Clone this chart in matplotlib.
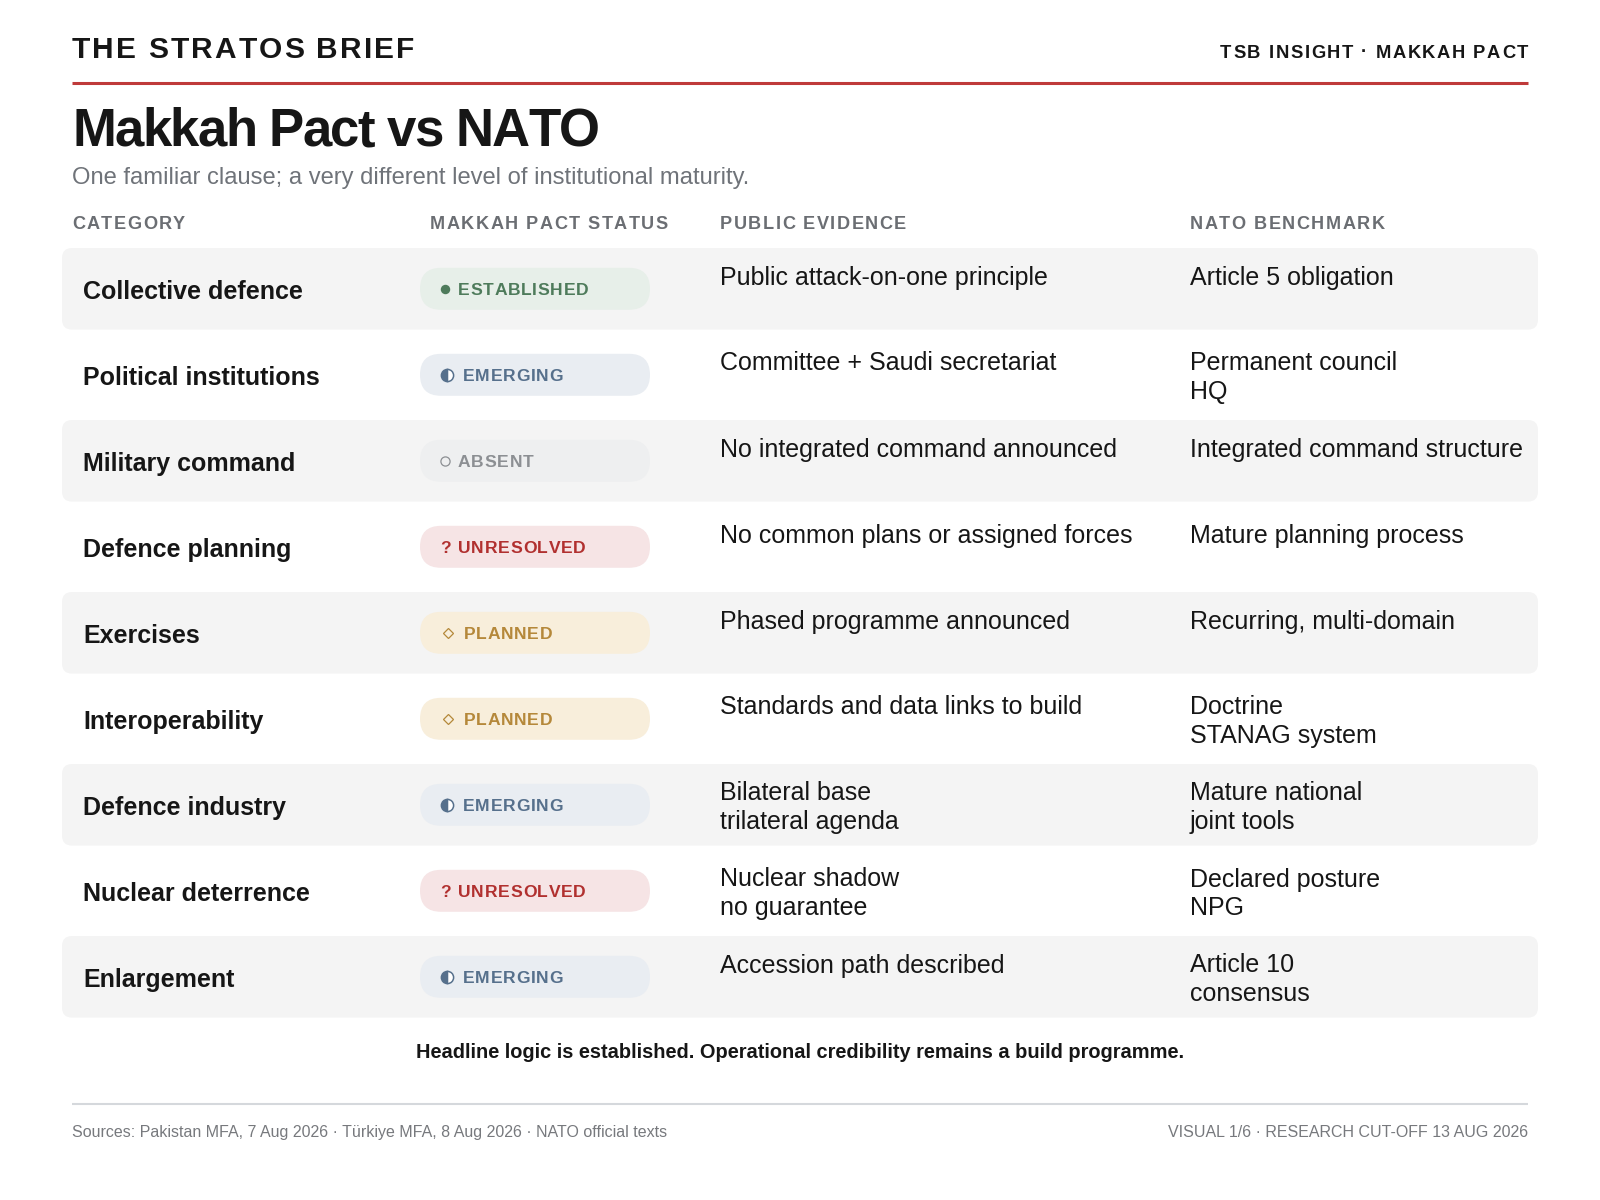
import matplotlib
matplotlib.use('Agg')
import matplotlib.pyplot as plt
from matplotlib.patches import FancyBboxPatch
from matplotlib.font_manager import FontProperties

plt.rcParams['font.family'] = ['Liberation Sans', 'DejaVu Sans']
FAMILY = ['Liberation Sans', 'DejaVu Sans']

W, H, DPI = 1600, 1200, 100

# table content
categories = ['Collective defence', 'Political institutions', 'Military command',
              'Defence planning', 'Exercises', 'Interoperability',
              'Defence industry', 'Nuclear deterrence', 'Enlargement']
statuses = ['ESTABLISHED', 'EMERGING', 'ABSENT', 'UNRESOLVED', 'PLANNED',
            'PLANNED', 'EMERGING', 'UNRESOLVED', 'EMERGING']
evidence = ['Public attack-on-one principle',
            'Committee + Saudi secretariat',
            'No integrated command announced',
            'No common plans or assigned forces',
            'Phased programme announced',
            'Standards and data links to build',
            'Bilateral base\ntrilateral agenda',
            'Nuclear shadow\nno guarantee',
            'Accession path described']
benchmark = ['Article 5 obligation',
             'Permanent council\nHQ',
             'Integrated command structure',
             'Mature planning process',
             'Recurring, multi-domain',
             'Doctrine\nSTANAG system',
             'Mature national\njoint tools',
             'Declared posture\nNPG',
             'Article 10\nconsensus']
columns = ['CATEGORY', 'MAKKAH PACT STATUS', 'PUBLIC EVIDENCE', 'NATO BENCHMARK']

# pill background, text colour, icon kind, label offset from pill left
status_style = {
    'ESTABLISHED': ('#e7efe9', '#4e7b5b', 'dot', 38),
    'EMERGING':    ('#e9edf2', '#56708c', 'half', 43),
    'ABSENT':      ('#eeeff0', '#8c8f93', 'ring', 38),
    'UNRESOLVED':  ('#f6e4e5', '#b1302f', 'query', 38),
    'PLANNED':     ('#f8eedb', '#b5883a', 'diamond', 44),
}

INK = '#161616'
GREY = '#6b6e73'

fig = plt.figure(figsize=(W / DPI, H / DPI), dpi=DPI)
ax = fig.add_axes([0, 0, 1, 1])
ax.set_xlim(0, W)
ax.set_ylim(H, 0)
ax.axis('off')
renderer = fig.canvas.get_renderer()


def px(size):
    return size * DPI / 72


def tracked(x, y, s, size, track, color, weight='bold', ha='left', va='center_baseline'):
    # text with letter spacing, drawn glyph by glyph
    prop = FontProperties(family=FAMILY, weight=weight, size=size)
    base = renderer.get_text_width_height_descent('HH', prop, ismath=False)[0]
    adv = [renderer.get_text_width_height_descent('H' + c + 'H', prop, ismath=False)[0] - base
           for c in s]
    gap = track * px(size)
    total = sum(adv) + gap * (len(s) - 1)
    if ha == 'right':
        x -= total
    elif ha == 'center':
        x -= total / 2
    for c, a in zip(s, adv):
        if c != ' ':
            ax.text(x, y, c, fontproperties=prop, color=color, va=va, ha='left')
        x += a + gap


def icon(kind, x, y, color):
    if kind == 'dot':
        ax.plot(x + 5, y, 'o', ms=6.8, mfc=color, mec=color, mew=0, zorder=3)
    elif kind == 'half':
        ax.plot(x + 7, y, 'o', ms=8.8, fillstyle='left', mfc=color, mfcalt='white',
                mec=color, mew=1.1, zorder=3)
    elif kind == 'ring':
        ax.plot(x + 5, y, 'o', ms=6.6, mfc='none', mec=color, mew=0.9, zorder=3)
    elif kind == 'diamond':
        ax.plot(x + 8, y, 'D', ms=5.6, mfc='none', mec=color, mew=0.9, zorder=3)
    else:
        tracked(x, y + 0.5, '?', 12.6, 0, color)


# masthead
tracked(72, 47, 'THE STRATOS BRIEF', 21.5, 0.07, INK)
tracked(1528, 51, 'TSB INSIGHT · MAKKAH PACT', 13.2, 0.085, INK, ha='right')
ax.plot([72, 1528], [83, 83], color='#bf3a3a', lw=2.2, solid_capstyle='butt')

tracked(72, 127, 'Makkah Pact vs NATO', 38, -0.03, INK)
ax.text(72, 175.5, 'One familiar clause; a very different level of institutional maturity.',
        fontsize=17.15, color='#6f7379', va='center_baseline', ha='left')

col_x = [72, 430, 720, 1190]
for cx, name in zip(col_x, columns):
    tracked(cx, 222.5, name, 13.1, 0.08, GREY)

# rows
row_top0, row_pitch, band_h = 248, 86, 81.6
for i, (cat, st, ev, nb) in enumerate(zip(categories, statuses, evidence, benchmark)):
    top = row_top0 + i * row_pitch
    mid = top + band_h / 2
    if i % 2 == 0:
        ax.add_patch(FancyBboxPatch((62, top), 1476, band_h,
                                    boxstyle='round,pad=0,rounding_size=10',
                                    fc='#f4f4f4', ec='none', zorder=0))
    ax.text(83, mid + 1, cat, fontsize=18, fontweight='bold', color=INK,
            va='center_baseline', ha='left')

    bg, fg, kind, off = status_style[st]
    ax.add_patch(FancyBboxPatch((420, mid - 21), 230, 42,
                                boxstyle='round,pad=0,rounding_size=21',
                                fc=bg, ec='none', zorder=1))
    icon(kind, 440, mid, fg)
    tracked(420 + off, mid + 0.5, st, 12.6, 0.04, fg)

    ax.text(720, top + 17.5, ev, fontsize=18, color=INK, va='top', ha='left',
            linespacing=1.25)
    ax.text(1190, top + 17.5, nb, fontsize=18, color=INK, va='top', ha='left',
            linespacing=1.25)

# footer
ax.text(800, 1051, 'Headline logic is established. Operational credibility remains a build programme.',
        fontsize=14.4, fontweight='bold', color=INK, ha='center', va='center_baseline')
ax.plot([72, 1528], [1104, 1104], color='#d5d8dc', lw=1.5, solid_capstyle='butt')
ax.text(72, 1131, 'Sources: Pakistan MFA, 7 Aug 2026 · Türkiye MFA, 8 Aug 2026 · NATO official texts',
        fontsize=11.5, color='#77797d', ha='left', va='center_baseline')
ax.text(1528, 1131, 'VISUAL 1/6 · RESEARCH CUT-OFF 13 AUG 2026',
        fontsize=11.5, color='#77797d', ha='right', va='center_baseline')

fig.savefig('out.png', dpi=DPI)
